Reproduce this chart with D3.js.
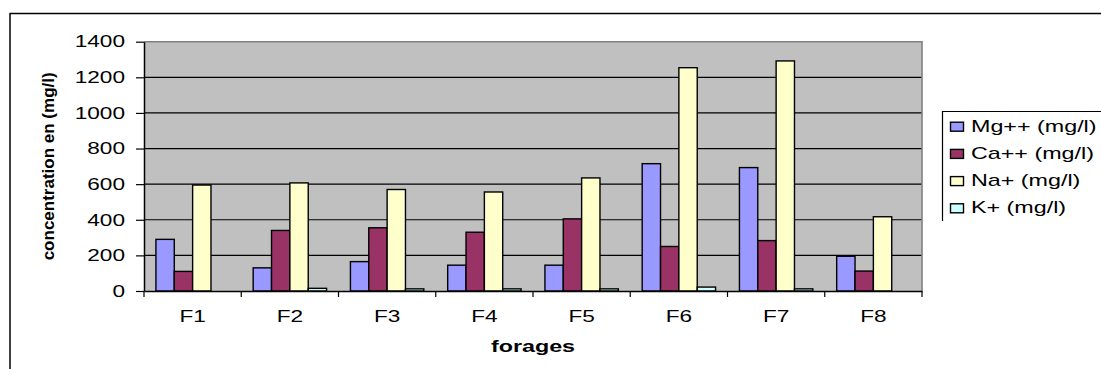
<!DOCTYPE html>
<html>
<head>
<meta charset="utf-8">
<script src="https://cdn.jsdelivr.net/npm/d3@7"></script>
<style>
  html, body { margin: 0; padding: 0; background: #fff; }
  svg { display: block; font-family: "Liberation Sans", Arial, sans-serif; }
</style>
</head>
<body>
<svg id="chart" width="1101" height="369"></svg>
<script>
// Borehole water chemistry: major cations per borehole (mg/l)
const categories = ["F1", "F2", "F3", "F4", "F5", "F6", "F7", "F8"];
const seriesNames = ["Mg++ (mg/l)", "Ca++ (mg/l)", "Na+ (mg/l)", "K+ (mg/l)"];
const mgValues = [290, 130, 165, 145, 145, 715, 693, 195];
const caValues = [110, 340, 355, 330, 405, 250, 283, 112];
const naValues = [595, 607, 570, 556, 635, 1254, 1292, 417];
const kValues  = [null, 15, 12, 12, 12, 22, 12, null];
const yTicks = [0, 200, 400, 600, 800, 1000, 1200, 1400];
const colors = ["#9999FF", "#993366", "#FFFFCC", "#CCFFFF"];

const series = [mgValues, caValues, naValues, kValues];
const svg = d3.select("#chart");
const stretch = 1.37; // horizontal widening of all lettering

function widen(sel) {
  sel.each(function () {
    const w = this.getComputedTextLength();
    d3.select(this).attr("textLength", w * stretch).attr("lengthAdjust", "spacingAndGlyphs");
  });
}

// outer frame (top and left edges)
svg.append("line").attr("x1", 10).attr("x2", 1101).attr("y1", 13.5).attr("y2", 13.5)
  .attr("stroke", "#000").attr("stroke-width", 1.5);
svg.append("line").attr("x1", 10).attr("x2", 10).attr("y1", 13).attr("y2", 369)
  .attr("stroke", "#000").attr("stroke-width", 1.5);

const plot = { left: 144, right: 922, top: 41.7, bottom: 291 };

const x0 = d3.scaleBand().domain(categories).range([plot.left, plot.right]).padding(0);
const gap = 1.3;
const barW = x0.bandwidth() / (4 + gap);
const x1 = d3.scaleBand().domain(seriesNames)
  .range([barW * gap / 2, barW * gap / 2 + 4 * barW]).padding(0);
const y = d3.scaleLinear().domain([0, 1400]).range([plot.bottom, plot.top]);

// plot background
svg.append("rect")
  .attr("x", plot.left).attr("y", plot.top)
  .attr("width", plot.right - plot.left).attr("height", plot.bottom - plot.top)
  .attr("fill", "#C0C0C0");

// horizontal gridlines
svg.append("g").selectAll("line")
  .data(yTicks.filter(v => v > 0 && v < 1400))
  .join("line")
  .attr("x1", plot.left).attr("x2", plot.right)
  .attr("y1", d => y(d)).attr("y2", d => y(d))
  .attr("stroke", "#000").attr("stroke-width", 1.2);

// plot border, top and right
svg.append("path")
  .attr("d", `M${plot.left},${y(1400)}H${plot.right}V${plot.bottom}`)
  .attr("fill", "none").attr("stroke", "#808080").attr("stroke-width", 1.6);

// bars
const groups = svg.append("g").selectAll("g")
  .data(categories)
  .join("g")
  .attr("transform", d => `translate(${x0(d)},0)`);

groups.selectAll("rect")
  .data((c, i) => series.map((s, j) => ({ key: seriesNames[j], value: s[i], color: colors[j] }))
    .filter(d => d.value != null))
  .join("rect")
  .attr("x", d => x1(d.key))
  .attr("width", x1.bandwidth())
  .attr("y", d => y(d.value))
  .attr("height", d => y(0) - y(d.value))
  .attr("fill", d => d.color)
  .attr("stroke", "#000")
  .attr("stroke-width", 1.4);

// y axis
const yAxis = svg.append("g")
  .attr("transform", `translate(${plot.left},0)`)
  .call(d3.axisLeft(y).tickValues(yTicks).tickFormat(d3.format("d"))
    .tickSize(8).tickPadding(11).tickSizeOuter(0));
yAxis.select(".domain").attr("stroke", "#000").attr("stroke-width", 1.5);
yAxis.selectAll(".tick line").attr("stroke", "#000").attr("stroke-width", 1.2);
yAxis.selectAll(".tick text")
  .attr("font-size", 16.5).attr("fill", "#000")
  .attr("font-family", "Liberation Sans, Arial, sans-serif")
  .call(widen);

// x axis
const xAxis = svg.append("g")
  .attr("transform", `translate(0,${plot.bottom})`)
  .call(d3.axisBottom(x0).tickSize(0).tickPadding(19));
xAxis.select(".domain").attr("stroke", "#000").attr("stroke-width", 1.5);
xAxis.selectAll(".tick text")
  .attr("font-size", 16.5).attr("fill", "#000")
  .attr("font-family", "Liberation Sans, Arial, sans-serif")
  .call(widen);
// category separators
svg.append("g").selectAll("line")
  .data(categories.map(c => x0(c)).concat([plot.right]))
  .join("line")
  .attr("x1", d => d).attr("x2", d => d)
  .attr("y1", plot.bottom).attr("y2", plot.bottom + 6)
  .attr("stroke", "#000").attr("stroke-width", 1.2);

// axis titles
svg.append("text")
  .attr("x", (plot.left + plot.right) / 2).attr("y", 352)
  .attr("text-anchor", "middle")
  .attr("font-size", 17).attr("font-weight", "bold").attr("fill", "#000")
  .text("forages")
  .call(widen);

svg.append("text")
  .attr("transform", `translate(54,${(plot.top + plot.bottom) / 2}) rotate(-90)`)
  .attr("text-anchor", "middle")
  .attr("font-size", 16).attr("font-weight", "bold").attr("fill", "#000")
  .attr("textLength", 188).attr("lengthAdjust", "spacingAndGlyphs")
  .text("concentration en (mg/l)");

// legend (box runs past the right edge)
const legend = svg.append("g");
legend.append("path")
  .attr("d", "M942.5,221V111.5H1101")
  .attr("fill", "none").attr("stroke", "#000").attr("stroke-width", 1.2);

const rows = legend.selectAll("g")
  .data(seriesNames)
  .join("g")
  .attr("transform", (d, i) => `translate(0,${121.7 + i * 27.2})`);
rows.append("rect")
  .attr("x", 950.5).attr("y", 0.5)
  .attr("width", 13).attr("height", 9)
  .attr("fill", (d, i) => colors[i])
  .attr("stroke", "#000").attr("stroke-width", 1.4);
rows.append("text")
  .attr("x", 971).attr("y", 10)
  .attr("font-size", 17).attr("fill", "#000")
  .text(d => d)
  .call(widen);
</script>
</body>
</html>
